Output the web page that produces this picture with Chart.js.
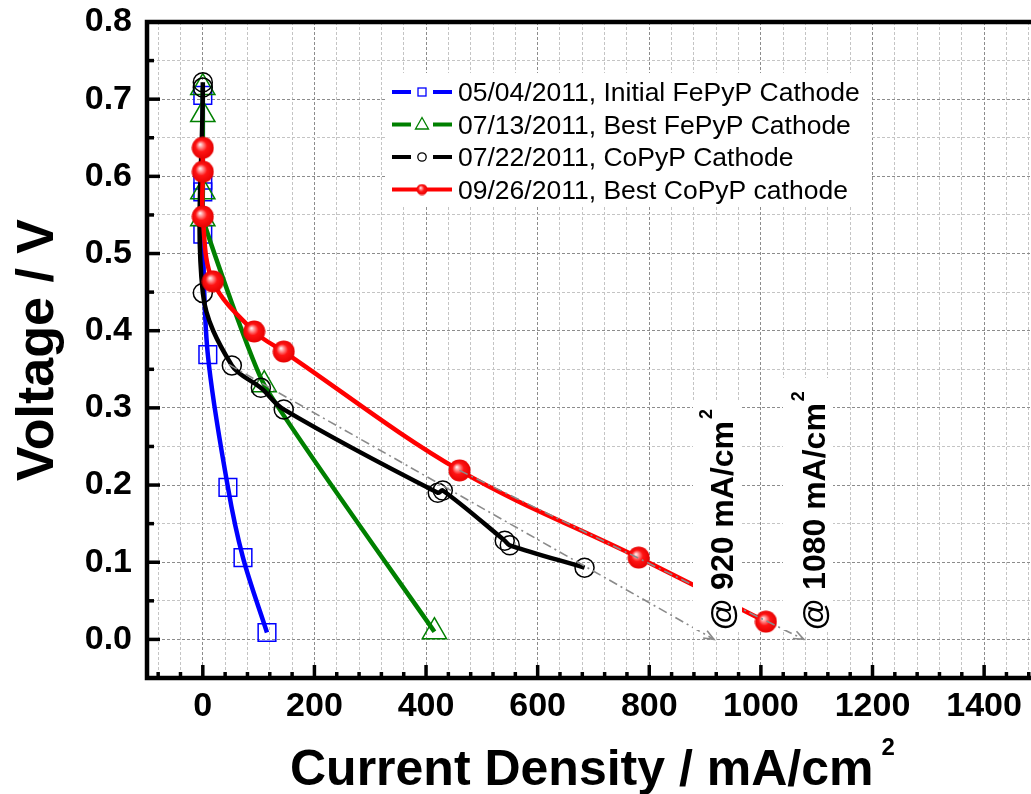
<!DOCTYPE html>
<html>
<head>
<meta charset="utf-8">
<script src="https://cdn.jsdelivr.net/npm/chart.js@4.4.0/dist/chart.umd.min.js"></script>
<style>
  html, body { margin: 0; padding: 0; background: #fff; }
</style>
</head>
<body>
<canvas id="chart" width="1031" height="794"></canvas>
<script>
'use strict'
const FONT = '"Liberation Sans", Arial, sans-serif'

// series (x = current density mA/cm2, y = voltage V)
const seriesLabels = [
  '05/04/2011, Initial FePyP Cathode',
  '07/13/2011, Best FePyP Cathode',
  '07/22/2011, CoPyP Cathode',
  '09/26/2011, Best CoPyP cathode',
]
const blueX = [0, 0, 0, 0, 9, 45, 72, 115]
const blueY = [0.705, 0.595, 0.58, 0.525, 0.369, 0.197, 0.106, 0.009]
const greenX = [0, 0, 0, 0, 110, 415]
const greenY = [0.715, 0.68, 0.58, 0.545, 0.33, 0.01]
const blackX = [0, 0, 0, 52, 104, 145, 421, 430, 541, 550, 684]
const blackY = [0.722, 0.715, 0.449, 0.355, 0.326, 0.298, 0.19, 0.193, 0.128, 0.122, 0.093]
const redX = [0, 0, 0, 18, 92, 145, 460, 781, 1009]
const redY = [0.637, 0.606, 0.548, 0.464, 0.399, 0.373, 0.219, 0.106, 0.023]

// extrapolation lines (grey dash-dot with arrows)
const ext1X = [47, 916]
const ext1Y = [0.356, 0]
const ext2X = [460, 1077]
const ext2Y = [0.219, 0]
const annotTexts = ['@ 920 mA/cm', '@ 1080 mA/cm']

// axes
const xMajorTicks = [0, 200, 400, 600, 800, 1000, 1200, 1400]
const yMajorTicks = [0.0, 0.1, 0.2, 0.3, 0.4, 0.5, 0.6, 0.7, 0.8]
const X_MIN = -100
const X_MAX = 1484
const X_MINOR = 40
const Y_MIN = -0.05
const Y_MAX = 0.8
const Y_MINOR = 0.05

const xTickVals = []
for (let v = -80; v <= X_MAX; v += X_MINOR) xTickVals.push(v)
const yTickVals = []
for (let k = -1; k <= 16; k++) yTickVals.push(Math.round(k * Y_MINOR * 100) / 100)

const isMajorX = (v) => v % 200 === 0
const isMajorY = (v) => Math.round(v * 100) % 10 === 0

const pts = (xs, ys) => xs.map((x, i) => ({ x: x, y: ys[i] }))

function makeBall(d) {
  const c = document.createElement('canvas')
  c.width = d
  c.height = d
  const g = c.getContext('2d')
  const r = d / 2
  const grad = g.createRadialGradient(r * 0.75, r * 0.7, 0, r, r, r)
  grad.addColorStop(0, '#ffffff')
  grad.addColorStop(0.2, '#ff9c9c')
  grad.addColorStop(0.5, '#ff1414')
  grad.addColorStop(1, '#e40000')
  g.fillStyle = grad
  g.beginPath()
  g.arc(r, r, r - 0.5, 0, Math.PI * 2)
  g.fill()
  return c
}
const ball = makeBall(23)
const smallBall = makeBall(12)

const lineCommon = {
  showLine: true,
  borderWidth: 4.5,
  tension: 0.35,
  pointBorderWidth: 1.5,
  pointBackgroundColor: 'rgba(0,0,0,0)',
}

const datasets = [
  Object.assign({}, lineCommon, {
    label: seriesLabels[0], data: pts(blueX, blueY), borderColor: '#0000ff',
    pointStyle: 'rect', pointRadius: 12.5, pointBorderColor: '#0000ff', order: 5,
  }),
  Object.assign({}, lineCommon, {
    label: seriesLabels[1], data: pts(greenX, greenY), borderColor: '#008000',
    pointStyle: 'triangle', pointRadius: 14, pointBorderColor: '#008000', order: 4,
    tension: 0.15,
  }),
  Object.assign({}, lineCommon, {
    label: seriesLabels[2], data: pts(blackX, blackY), borderColor: '#000000',
    pointStyle: 'circle', pointRadius: 9.5, pointBorderColor: '#000000', order: 3,
  }),
  Object.assign({}, lineCommon, {
    label: seriesLabels[3], data: pts(redX, redY), borderColor: '#ff0000',
    pointStyle: ball, pointRadius: 11, order: 2,
  }),
  {
    label: 'ext1', data: pts(ext1X, ext1Y), showLine: true, borderColor: '#8a8a8a',
    borderWidth: 1.6, borderDash: [9, 4, 2, 4], pointRadius: 0, tension: 0, order: 1,
  },
  {
    label: 'ext2', data: pts(ext2X, ext2Y), showLine: true, borderColor: '#8a8a8a',
    borderWidth: 1.6, borderDash: [9, 4, 2, 4], pointRadius: 0, tension: 0, order: 1,
  },
]

function drawArrow(ctx, x0, y0, x1, y1) {
  const ang = Math.atan2(y1 - y0, x1 - x0)
  const len = 11
  const spread = 0.38
  ctx.beginPath()
  ctx.moveTo(x1 - len * Math.cos(ang - spread), y1 - len * Math.sin(ang - spread))
  ctx.lineTo(x1, y1)
  ctx.lineTo(x1 - len * Math.cos(ang + spread), y1 - len * Math.sin(ang + spread))
  ctx.stroke()
}

function drawRotatedLabel(ctx, text, x, y) {
  ctx.save()
  ctx.translate(x, y)
  ctx.rotate(-Math.PI / 2)
  ctx.fillStyle = '#000'
  ctx.textAlign = 'left'
  ctx.textBaseline = 'alphabetic'
  ctx.font = 'bold 32px ' + FONT
  ctx.fillText(text, 0, 0)
  const w = ctx.measureText(text).width
  ctx.font = 'bold 18px ' + FONT
  ctx.fillText('2', w + 2, -21)
  ctx.restore()
}

const annotations = {
  id: 'annotations',
  afterDatasetsDraw(chart) {
    const { ctx, scales: { x, y } } = chart
    ctx.save()
    // arrow heads on the extrapolation lines
    ctx.strokeStyle = '#8a8a8a'
    ctx.lineWidth = 1.6
    ;[[ext1X, ext1Y], [ext2X, ext2Y]].forEach(([xs, ys]) => {
      const n = xs.length
      drawArrow(ctx,
        x.getPixelForValue(xs[n - 2]), y.getPixelForValue(ys[n - 2]),
        x.getPixelForValue(xs[n - 1]), y.getPixelForValue(ys[n - 1]))
    })
    // white boxes behind the rotated labels
    ctx.fillStyle = '#fff'
    ctx.fillRect(693, 400, 49, 230)
    ctx.fillRect(783, 378, 50, 252)
    drawRotatedLabel(ctx, annotTexts[0], 733, 630)
    drawRotatedLabel(ctx, annotTexts[1], 825, 630)

    // legend
    ctx.fillStyle = '#fff'
    ctx.fillRect(385, 73, 485, 133)
    const colors = ['#0000ff', '#008000', '#000000', '#ff0000']
    for (let i = 0; i < seriesLabels.length; i++) {
      const ry = 92 + 32.5 * i
      ctx.strokeStyle = colors[i]
      ctx.lineWidth = 4
      ctx.beginPath()
      if (i === 3) {
        ctx.moveTo(392, ry); ctx.lineTo(452, ry)
      } else {
        ctx.moveTo(392, ry); ctx.lineTo(411, ry)
        ctx.moveTo(433, ry); ctx.lineTo(452, ry)
      }
      ctx.stroke()
      ctx.lineWidth = 1.3
      if (i === 0) {
        ctx.strokeRect(418, ry - 4, 8, 8)
      } else if (i === 1) {
        ctx.beginPath()
        ctx.moveTo(422, ry - 7); ctx.lineTo(428.5, ry + 4.5); ctx.lineTo(415.5, ry + 4.5)
        ctx.closePath(); ctx.stroke()
      } else if (i === 2) {
        ctx.beginPath(); ctx.arc(422, ry, 4.2, 0, Math.PI * 2); ctx.stroke()
      } else {
        ctx.drawImage(smallBall, 416, ry - 6)
      }
      ctx.fillStyle = '#000'
      ctx.font = '26.5px ' + FONT
      ctx.textAlign = 'left'
      ctx.textBaseline = 'alphabetic'
      ctx.fillText(seriesLabels[i], 458, ry + 9)
    }
    ctx.restore()
  },
  afterDraw(chart) {
    const { ctx, chartArea: a, scales: { x, y } } = chart
    ctx.save()
    ctx.strokeStyle = '#000'
    ctx.lineCap = 'butt'
    ctx.lineWidth = 3.5
    yTickVals.forEach((v) => {
      const py = y.getPixelForValue(v)
      const len = isMajorY(v) ? 13 : 7
      ctx.beginPath(); ctx.moveTo(a.left, py); ctx.lineTo(a.left + len, py); ctx.stroke()
    })
    xTickVals.forEach((v) => {
      const px = x.getPixelForValue(v)
      const len = isMajorX(v) ? 13 : 6
      ctx.beginPath(); ctx.moveTo(px, a.bottom); ctx.lineTo(px, a.bottom - len); ctx.stroke()
    })
    ctx.lineWidth = 4.5
    ctx.beginPath()
    ctx.moveTo(a.right + 20, a.top)
    ctx.lineTo(a.left, a.top)
    ctx.lineTo(a.left, a.bottom)
    ctx.lineTo(a.right + 20, a.bottom)
    ctx.stroke()

    // axis titles
    ctx.fillStyle = '#000'
    ctx.textBaseline = 'alphabetic'
    ctx.textAlign = 'left'
    ctx.font = 'bold 50px ' + FONT
    const xt = 'Current Density / mA/cm'
    ctx.fillText(xt, 290, 785)
    const w = ctx.measureText(xt).width
    ctx.font = 'bold 24px ' + FONT
    ctx.fillText('2', 290 + w + 8, 755)

    ctx.translate(53, 350)
    ctx.rotate(-Math.PI / 2)
    ctx.textAlign = 'center'
    ctx.font = 'bold 52px ' + FONT
    ctx.fillText('Voltage / V', 0, 0)
    ctx.restore()
  },
}

const gridColor = (major) => (major ? '#8c8c8c' : '#c4c4c4')

const chart = new Chart(document.getElementById('chart'), {
  type: 'scatter',
  data: { datasets: datasets },
  options: {
    responsive: false,
    animation: false,
    layout: { autoPadding: false, padding: { top: 22, right: 0, left: 0, bottom: 0 } },
    plugins: { legend: { display: false }, tooltip: { enabled: false } },
    scales: {
      x: {
        type: 'linear',
        min: X_MIN,
        max: X_MAX,
        afterBuildTicks: (s) => { s.ticks = xTickVals.map((v) => ({ value: v })) },
        afterFit: (s) => {
          s.height = 116
          s.paddingLeft = 0
          s.paddingRight = 0
        },
        grid: {
          drawTicks: false,
          lineWidth: 1,
          color: (c) => gridColor(isMajorX(c.tick.value)),
        },
        border: { display: false, dash: [3, 2] },
        ticks: {
          autoSkip: false,
          maxRotation: 0,
          minRotation: 0,
          padding: 8,
          color: '#000',
          font: { family: FONT, size: 34, weight: 'bold' },
          callback: (v) => (xMajorTicks.includes(v) ? String(v) : ''),
        },
      },
      y: {
        type: 'linear',
        min: Y_MIN,
        max: Y_MAX,
        afterBuildTicks: (s) => { s.ticks = yTickVals.map((v) => ({ value: v })) },
        afterFit: (s) => {
          s.width = 147
          s.paddingTop = 0
          s.paddingBottom = 0
        },
        grid: {
          drawTicks: false,
          lineWidth: 1,
          color: (c) => gridColor(isMajorY(c.tick.value)),
        },
        border: { display: false, dash: [3, 2] },
        ticks: {
          autoSkip: false,
          padding: 15,
          color: '#000',
          font: { family: FONT, size: 34, weight: 'bold' },
          callback: (v) => {
            const t = yMajorTicks.find((m) => Math.abs(m - v) < 1e-6)
            return t === undefined ? '' : t.toFixed(1)
          },
        },
      },
    },
  },
  plugins: [annotations],
})
</script>
</body>
</html>
